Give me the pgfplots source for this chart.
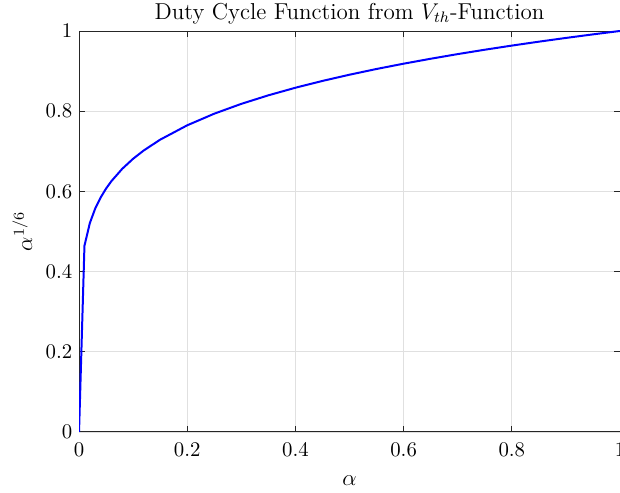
\documentclass[border=0pt]{standalone}
\usepackage{pgfplots}
\pgfplotsset{compat=1.18}
\begin{document}
\begin{tikzpicture}
\begin{axis}[name=ax, scale only axis, width=284.7pt, height=211pt,
  xmin=0, xmax=1, ymin=0, ymax=1,
  xtick={0,0.2,0.4,0.6,0.8,1}, ytick={0,0.2,0.4,0.6,0.8,1},
  grid=major, grid style={black!12, line width=0.35pt},
  axis line style={black!85, line width=0.45pt},
  tick style={black!85, line width=0.45pt},
  tick align=inside, major tick length=3.2pt,
  tick label style={font=\fontsize{11}{13}\selectfont},
  xticklabel style={anchor=base, yshift=-13.2pt},
  label style={font=\fontsize{12.1}{14}\selectfont},
  title style={font=\fontsize{12.1}{14}\selectfont, at={(axis description cs:0.5,1)}, anchor=base, yshift=0pt},
  xlabel style={at={(axis description cs:0.5,0)}, anchor=base, yshift=-28.4pt},
  ylabel style={at={(axis description cs:0,0.5)}, anchor=base, yshift=24.7pt},
  title={Duty Cycle Function from $V_{th}$-Function},
  xlabel={$\alpha$}, ylabel={$\alpha^{1/6}$},
]
\addplot[blue, line width=1.05pt] coordinates {
(0,0) (0.01,0.4642) (0.02,0.5210) (0.03,0.5575) (0.04,0.5848) (0.05,0.6070)
(0.06,0.6257) (0.08,0.6564) (0.1,0.6813) (0.12,0.7023) (0.15,0.7289)
(0.2,0.7647) (0.25,0.7937) (0.3,0.8182) (0.35,0.8395) (0.4,0.8584)
(0.45,0.8754) (0.5,0.8909) (0.55,0.9052) (0.6,0.9184) (0.65,0.9307)
(0.7,0.9423) (0.75,0.9532) (0.8,0.9635) (0.85,0.9733) (0.9,0.9826)
(0.95,0.9915) (1,1)
};
\end{axis}
\pgfresetboundingbox
\path ([xshift=-41.6pt,yshift=-32.1pt]ax.south west) rectangle ([yshift=16.3pt]ax.north east);
\end{tikzpicture}
\end{document}
